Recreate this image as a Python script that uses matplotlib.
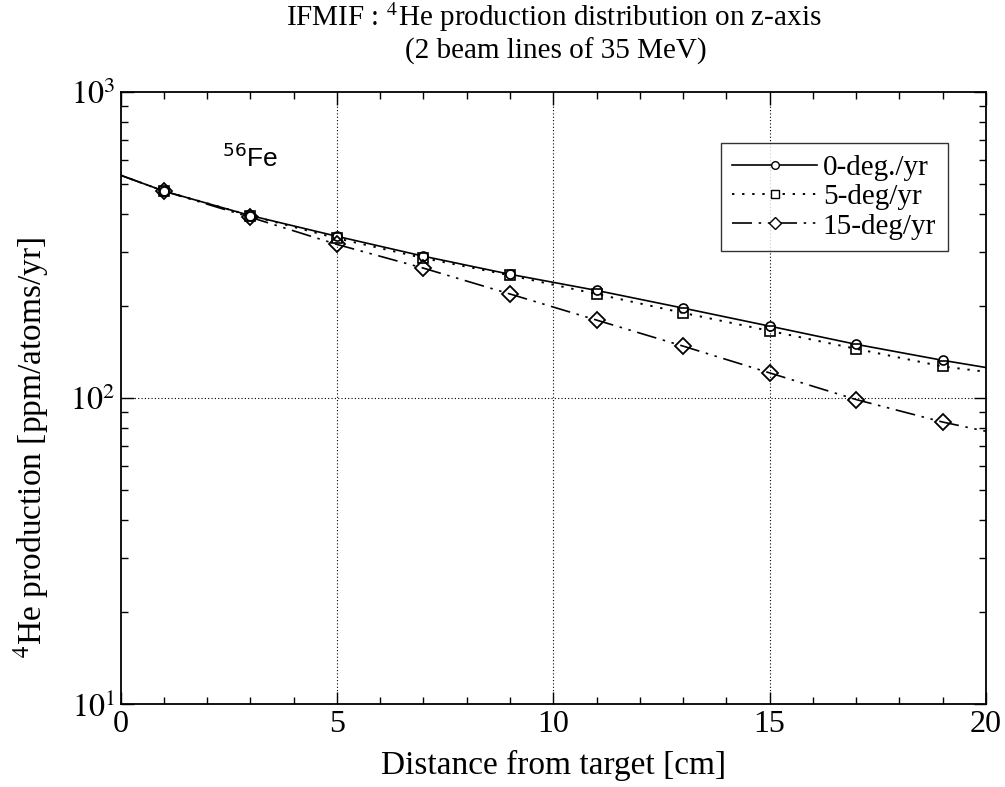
import math
import matplotlib
matplotlib.use("Agg")
import matplotlib.pyplot as plt
from matplotlib.ticker import FixedLocator, FuncFormatter, LogLocator, NullFormatter

plt.rcParams['font.family'] = ['Liberation Serif', 'DejaVu Serif']
plt.rcParams['mathtext.fontset'] = 'stix'

# Data
pos_markers = [1, 3, 5, 7, 9, 11, 13, 15, 17, 19]
deg0 = [475, 395, 338, 291, 254, 225, 197, 172, 150, 133]
deg5 = [475, 395, 333, 287, 252, 219, 190, 166, 145, 127]
deg15 = [475, 390, 318, 266, 219, 180, 148, 121, 99, 83.6]

pos_line = [0, 1, 3, 5, 7, 9, 11, 13, 15, 17, 19, 20]
line0 = [535, 475, 395, 338, 291, 254, 225, 197, 172, 150, 133, 126]
line5 = [535, 475, 395, 333, 287, 252, 219, 190, 166, 145, 127, 122]
line15 = [535, 475, 390, 318, 266, 219, 180, 148, 121, 99, 83.6, 78]

labels = ['0-deg./yr', '5-deg/yr', '15-deg/yr']
title_lines = ['IFMIF : $^4$He production distribution on z-axis', '(2 beam lines of 35 MeV)']

fig = plt.figure(figsize=(10.05, 7.87), dpi=100)
ax = fig.add_axes([0.120, 0.105, 0.861, 0.778])

ax.set_xlim(0, 20)
ax.set_yscale('log')
ax.set_ylim(10, 1000)

dash15 = (0, (12, 4, 1.5, 4, 1.5, 4))
dot5 = (0, (1.2, 4))
ax.plot(pos_line, line0, color='black', lw=1.2, ls='-')
ax.plot(pos_line, line5, color='black', lw=1.4, ls=dot5)
ax.plot(pos_line, line15, color='black', lw=1.2, ls=dash15)

ax.plot(pos_markers, deg0, ls='none', marker='o', ms=6.5, mfc='white', mec='black', mew=1.2)
ax.plot(pos_markers, deg5, ls='none', marker='s', ms=6.5, mfc='none', mec='black', mew=1.2)
ax.plot(pos_markers, deg15, ls='none', marker='D', ms=8.5, mfc='none', mec='black', mew=1.3)

# legend proxies
h0, = ax.plot([], [], color='black', lw=1.2, ls='-', marker='o', ms=5.5, mfc='white', mec='black')
h5, = ax.plot([], [], color='black', lw=1.4, ls=dot5, marker='s', ms=5.5, mfc='white', mec='black')
h15, = ax.plot([], [], color='black', lw=1.2, ls=dash15, marker='D', ms=6.5, mfc='white', mec='black')
leg = ax.legend([h0, h5, h15], labels, loc='upper right', bbox_to_anchor=(0.956, 0.917),
                fontsize=21, frameon=True, fancybox=False, edgecolor='black',
                handlelength=2.9, handletextpad=0.2, labelspacing=0.1, borderpad=0.4,
                borderaxespad=0.0)
leg.get_frame().set_linewidth(1.0)

# grid
for xv in [5, 10, 15]:
    ax.axvline(xv, color='black', lw=0.8, ls=(0, (1, 2)), zorder=0)
ax.axhline(100, color='black', lw=0.8, ls=(0, (1, 2)), zorder=0)

ax.text(2.35, 608, r'$^{56}$Fe', family='Liberation Sans', fontsize=19, ha='left', va='center',
        math_fontfamily='dejavusans')

# ticks
ax.xaxis.set_major_locator(FixedLocator([0, 5, 10, 15, 20]))
ax.xaxis.set_minor_locator(FixedLocator(list(range(0, 21))))
ax.yaxis.set_major_locator(LogLocator(base=10, numticks=5))
ax.yaxis.set_minor_locator(LogLocator(base=10, subs=range(2, 10), numticks=20))
ax.yaxis.set_minor_formatter(NullFormatter())
ax.yaxis.set_major_formatter(FuncFormatter(lambda v, p: r'$10^{%d}$' % round(math.log10(v))))
ax.tick_params(which='both', direction='in', top=True, right=True, labelsize=23, color='black')
ax.tick_params(which='major', length=9, width=1.0, pad=4)
ax.tick_params(which='minor', length=5, width=1.0)
for s in ax.spines.values():
    s.set_linewidth(1.3)

ax.set_xlabel('Distance from target [cm]', fontsize=24, labelpad=8)
ax.set_ylabel(r'$^4$He production [ppm/atoms/yr]', fontsize=24)
ax.yaxis.set_label_coords(-0.08, 0.42)
fig.text(0.551, 0.978, title_lines[0], fontsize=21, ha='center', va='center')
fig.text(0.553, 0.935, title_lines[1], fontsize=21, ha='center', va='center')

fig.savefig('out.png', dpi=100)
